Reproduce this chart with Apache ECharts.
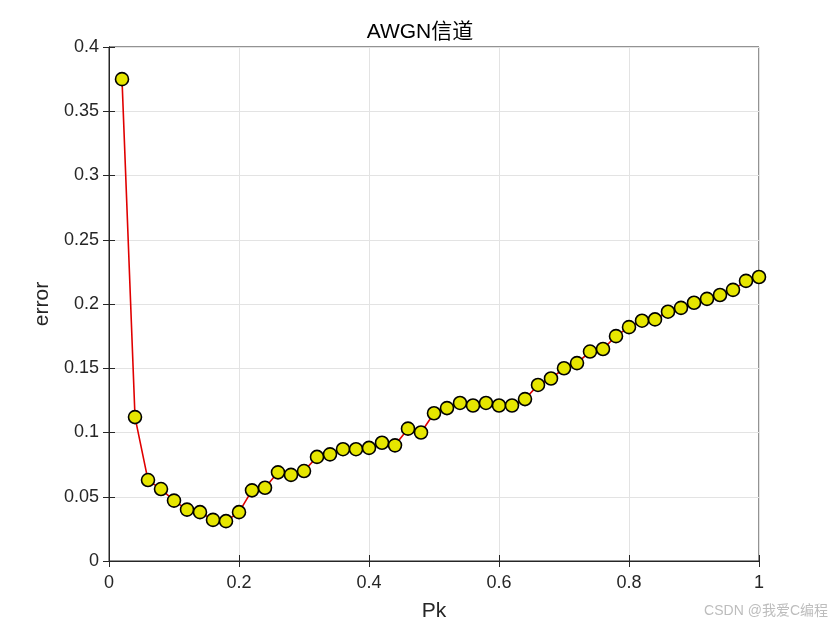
<!DOCTYPE html>
<html>
<head>
<meta charset="utf-8">
<script src="https://cdn.jsdelivr.net/npm/echarts@6/dist/echarts.min.js"></script>
<style>
html,body{margin:0;padding:0;background:#fff;}
#chart{width:840px;height:630px;}
</style>
</head>
<body>
<div id="chart"></div>
<script>
const pk = [0.02,0.04,0.06,0.08,0.10,0.12,0.14,0.16,0.18,0.20,
            0.22,0.24,0.26,0.28,0.30,0.32,0.34,0.36,0.38,0.40,
            0.42,0.44,0.46,0.48,0.50,0.52,0.54,0.56,0.58,0.60,
            0.62,0.64,0.66,0.68,0.70,0.72,0.74,0.76,0.78,0.80,
            0.82,0.84,0.86,0.88,0.90,0.92,0.94,0.96,0.98,1.00];
const errorValues = [0.375,0.112,0.063,0.056,0.047,0.040,0.038,0.032,0.031,0.038,
                     0.055,0.057,0.069,0.067,0.070,0.081,0.083,0.087,0.087,0.088,
                     0.092,0.090,0.103,0.100,0.115,0.119,0.123,0.121,0.123,0.121,
                     0.121,0.126,0.137,0.142,0.150,0.154,0.163,0.165,0.175,0.182,
                     0.187,0.188,0.194,0.197,0.201,0.204,0.207,0.211,0.218,0.221];
const titleText = 'AWGN信道';
const xName = 'Pk';
const yName = 'error';
const watermark = 'CSDN @我爱C编程';

const FONT = "'Liberation Sans', Arial, 'Noto Sans CJK SC', sans-serif";
const chart = echarts.init(document.getElementById('chart'));
const axisColor = '#262626';
const gridColor = '#e3e3e3';
chart.setOption({
  animation: false,
  backgroundColor: '#fff',
  title: {
    text: titleText, left: 'center', top: 17,
    textStyle: {fontFamily: FONT, fontSize: 21, fontWeight: 'normal', color: '#000'}
  },
  graphic: [{
    type: 'text', right: 12, top: 604,
    style: {text: watermark, fontFamily: FONT, fontSize: 14, fill: '#bdbdbd'}
  }],
  grid: {left: 109, right: 81, top: 47, bottom: 69, show: true, borderColor: axisColor, borderWidth: 1},
  xAxis: [{
    type: 'value', min: 0, max: 1, interval: 0.2, position: 'bottom',
    name: xName, nameLocation: 'middle', nameGap: 40,
    nameTextStyle: {fontFamily: FONT, fontSize: 21, color: axisColor},
    axisLine: {show: true, lineStyle: {color: axisColor}},
    axisTick: {show: true, inside: true, length: 6, lineStyle: {color: axisColor}},
    axisLabel: {fontFamily: FONT, fontSize: 18, color: axisColor, margin: 13},
    splitLine: {show: true, lineStyle: {color: gridColor}}
  },{
    type: 'value', min: 0, max: 1, interval: 0.2, position: 'top',
    axisLine: {show: true, lineStyle: {color: axisColor}},
    axisTick: {show: true, inside: true, length: 6, lineStyle: {color: axisColor}},
    axisLabel: {show: false}, splitLine: {show: false}
  }],
  yAxis: [{
    type: 'value', min: 0, max: 0.4, interval: 0.05, position: 'left',
    name: yName, nameLocation: 'middle', nameGap: 54, nameRotate: 90,
    nameTextStyle: {fontFamily: FONT, fontSize: 21, color: axisColor},
    axisLine: {show: true, lineStyle: {color: axisColor}},
    axisTick: {show: true, inside: true, length: 6, lineStyle: {color: axisColor}},
    axisLabel: {fontFamily: FONT, fontSize: 18, color: axisColor, margin: 10},
    splitLine: {show: true, lineStyle: {color: gridColor}}
  },{
    type: 'value', min: 0, max: 0.4, interval: 0.05, position: 'right',
    axisLine: {show: true, lineStyle: {color: axisColor}},
    axisTick: {show: true, inside: true, length: 6, lineStyle: {color: axisColor}},
    axisLabel: {show: false}, splitLine: {show: false}
  }],
  series: [{
    type: 'line',
    data: pk.map((x, i) => [x, errorValues[i]]),
    xAxisIndex: 0, yAxisIndex: 0,
    symbol: 'circle', symbolSize: 13,
    lineStyle: {color: '#e00000', width: 1.6},
    itemStyle: {color: '#e6e600', borderColor: '#000', borderWidth: 1.6},
    emphasis: {disabled: true}
  }]
});
</script>
</body>
</html>
